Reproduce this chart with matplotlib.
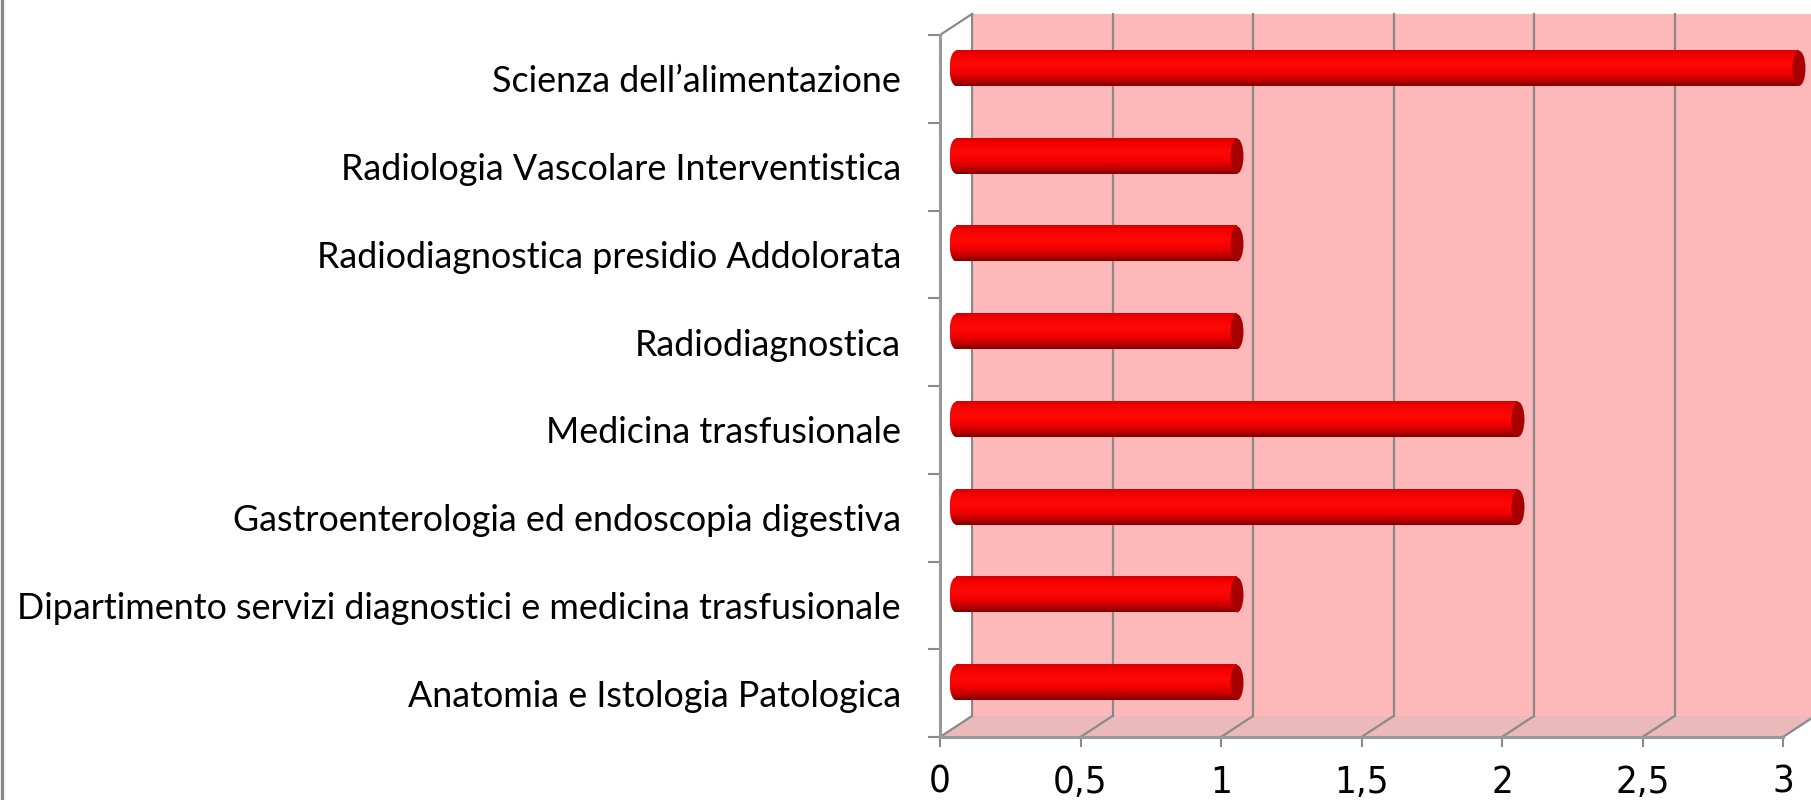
import numpy as np
import matplotlib
matplotlib.use('Agg')
import matplotlib.pyplot as plt
import matplotlib.transforms as mtransforms
from matplotlib.patches import Rectangle, Ellipse, Polygon
from matplotlib.lines import Line2D

#  Data (bottom to top)
categories = ['Anatomia e Istologia Patologica',
              'Dipartimento servizi diagnostici e medicina trasfusionale',
              'Gastroenterologia ed endoscopia digestiva',
              'Medicina trasfusionale',
              'Radiodiagnostica',
              'Radiodiagnostica presidio Addolorata',
              'Radiologia Vascolare Interventistica',
              'Scienza dell\u2019alimentazione']
values = [1, 1, 2, 2, 1, 1, 1, 3]
x_ticks = [0, 0.5, 1, 1.5, 2, 2.5, 3]
x_ticklabels = ['0', '0,5', '1', '1,5', '2', '2,5', '3']

#  Style
dpi = 100
wall_color = '#FDB9B9'
floor_color = '#EBB9B9'
grid_color = '#8A8A8A'
cap_color = '#A80000'
depth_px = (32, 21)  # 3d depth offset in pixels
bar_h = 0.40
cap_w = 0.046

fig = plt.figure(figsize=(18.11, 8), dpi=dpi)
ax = fig.add_axes([940 / 1811, 63 / 800, 843 / 1811, 702 / 800])
ax.set_xlim(0, 3)
ax.set_ylim(-0.5, len(categories) - 0.5)
ax.patch.set_visible(False)

ymin, ymax = ax.get_ylim()
xmax = x_ticks[-1]

back = ax.transData + mtransforms.ScaledTranslation(
    depth_px[0] / dpi, depth_px[1] / dpi, fig.dpi_scale_trans)
mid = ax.transData + mtransforms.ScaledTranslation(
    depth_px[0] / 2 / dpi, depth_px[1] / 2 / dpi, fig.dpi_scale_trans)


def depth(x, y, t):
    px, py = ax.transData.transform((x, y))
    return (px + t * depth_px[0], py + t * depth_px[1])


ident = mtransforms.IdentityTransform()

#  Back wall
ax.add_patch(Rectangle((0, ymin), xmax, ymax - ymin, transform=back,
                       facecolor=wall_color, edgecolor='none', zorder=0,
                       clip_on=False))
#  Floor
floor = [depth(0, ymin, 0), depth(xmax, ymin, 0),
         depth(xmax, ymin, 1), depth(0, ymin, 1)]
ax.add_patch(Polygon(floor, closed=True, transform=ident,
                     facecolor=floor_color, edgecolor='none', zorder=1,
                     clip_on=False))

#  Grid lines on wall and floor
for xv in x_ticks:
    ax.add_line(Line2D([xv, xv], [ymin, ymax], transform=back,
                       color=grid_color, lw=1.6, zorder=2, clip_on=False))
    p0 = depth(xv, ymin, 0)
    p1 = depth(xv, ymin, 1)
    ax.add_line(Line2D([p0[0], p1[0]], [p0[1], p1[1]], transform=ident,
                       color=grid_color, lw=1.6, zorder=2, clip_on=False))
#  top diagonal of the vertical axis
p0 = depth(0, ymax, 0)
p1 = depth(0, ymax, 1)
ax.add_line(Line2D([p0[0], p1[0]], [p0[1], p1[1]], transform=ident,
                   color=grid_color, lw=1.6, zorder=2, clip_on=False))

#  Cylinder bars
stops = [(0.0, (215, 0, 0)), (0.15, (245, 0, 0)), (0.4, (255, 8, 8)),
         (0.65, (242, 0, 0)), (0.85, (190, 0, 0)), (1.0, (130, 0, 0))]
pos = np.linspace(0, 1, 64)
grad = np.zeros((64, 1, 3))
for c in range(3):
    grad[:, 0, c] = np.interp(pos, [s[0] for s in stops],
                              [s[1][c] / 255 for s in stops])

for i, v in enumerate(values):
    y0, y1 = i - bar_h / 2, i + bar_h / 2
    body = ax.imshow(grad, extent=[0, v, y0, y1], transform=mid,
                     aspect='auto', interpolation='bilinear', zorder=3,
                     origin='upper')
    body.set_clip_on(False)
    left_cap = Ellipse((0, i), cap_w, bar_h, transform=mid,
                       facecolor='none', edgecolor='none')
    ax.add_patch(left_cap)
    lim = ax.imshow(grad, extent=[-cap_w / 2, cap_w / 2, y0, y1],
                    transform=mid, aspect='auto', interpolation='bilinear',
                    zorder=3, origin='upper')
    lim.set_clip_path(left_cap)
    ax.add_patch(Ellipse((v, i), cap_w, bar_h, transform=mid,
                         facecolor=cap_color, edgecolor='none', zorder=4,
                         clip_on=False))

ax.set_xlim(0, 3)
ax.set_ylim(-0.5, len(categories) - 0.5)

#  Axes, ticks and labels
for side in ['top', 'right']:
    ax.spines[side].set_visible(False)
for side in ['left', 'bottom']:
    ax.spines[side].set_color('#999999')
    ax.spines[side].set_linewidth(2.2)
    ax.spines[side].set_zorder(5)

ax.set_xticks(x_ticks)
ax.set_xticklabels(x_ticklabels, family='DejaVu Sans',
                   fontstretch='condensed', fontsize=27.5)
ax.tick_params(axis='x', direction='out', length=7, width=1.5,
               color=grid_color, pad=13)

ax.set_yticks(range(len(categories)))
ax.set_yticklabels(categories, family=['Lato', 'DejaVu Sans'], fontsize=25.8)
ax.set_yticks(np.arange(-0.5, len(categories)), minor=True)
ax.tick_params(axis='y', which='major', length=0, pad=28)
ax.tick_params(axis='y', which='minor', direction='out', length=8.5,
               width=1.5, color=grid_color)

#  Chart area border on the left
fig.add_artist(Line2D([1.5 / 1811, 1.5 / 1811], [0, 1],
                      transform=fig.transFigure, color='#888888', lw=2.4))

fig.savefig('out.png', dpi=dpi)
